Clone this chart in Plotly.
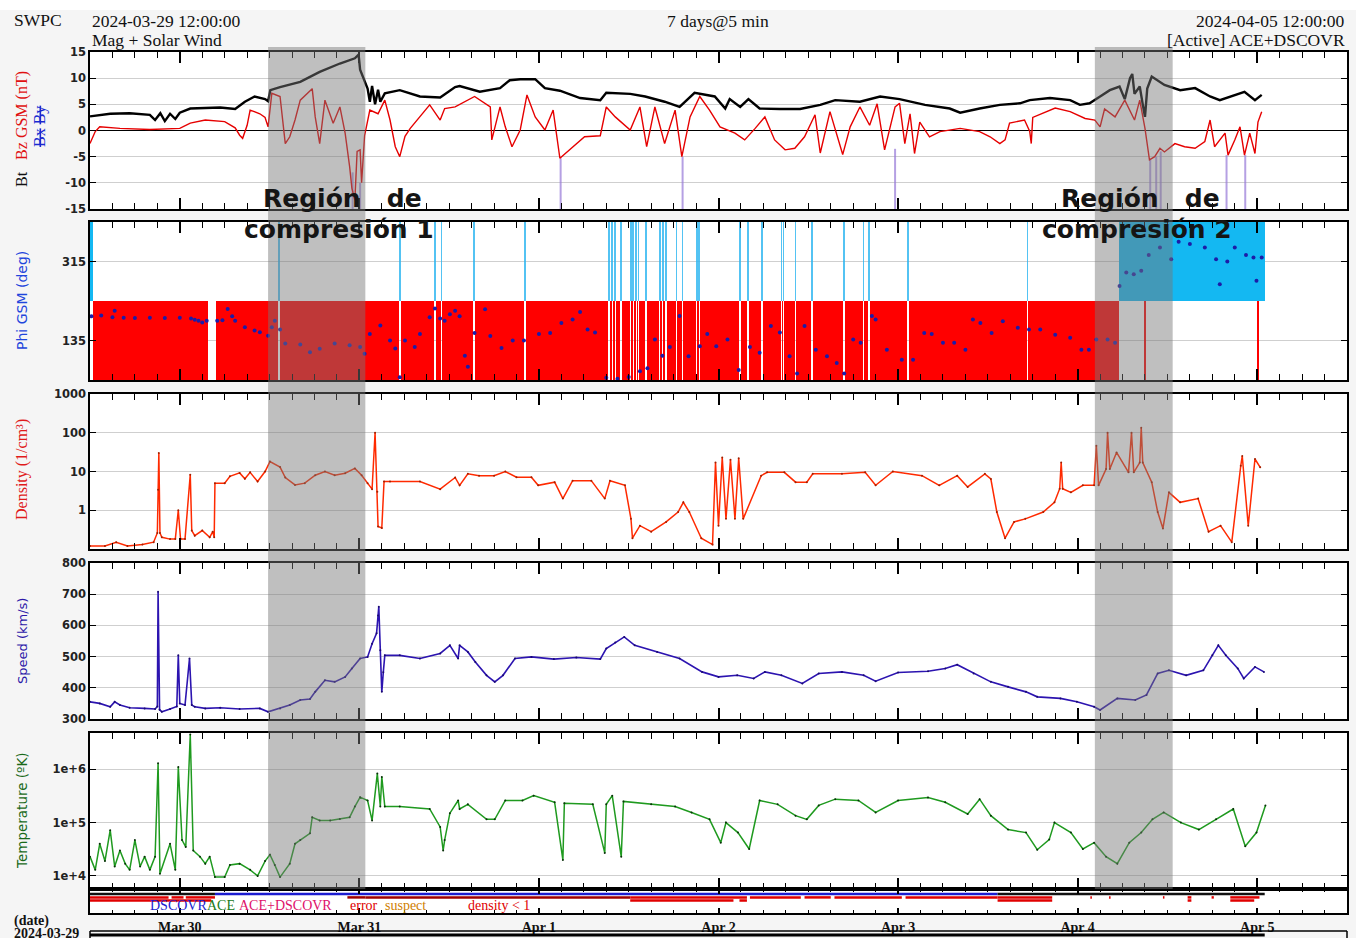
import pandas as pd
import plotly.graph_objects as go

T0 = pd.Timestamp("2024-03-29 12:00:00")
T_END = pd.Timestamp("2024-04-05 12:00:00")

# ---------------- data (time in hours since 2024-03-29 12:00 UTC) ----------------
bt_hours = [0, 1.3, 2.7, 5.3, 8.0, 8.7, 9.4, 10.0, 10.7, 11.4, 12.0, 13.4, 17.4, 19.4, 20.7, 22.0, 23.4, 23.8,
            24.1, 25.4, 28.1, 30.7, 33.4, 35.4, 35.9, 36.1, 36.7, 37.1, 37.4, 37.7, 38.1, 38.5, 38.8, 39.4, 41.4,
            44.1, 46.8, 48.8, 49.4, 52.1, 54.8, 56.1, 57.5, 59.5, 60.8, 62.8, 65.5, 68.2, 69.0, 72.2, 74.2, 76.8,
            78.8, 80.8, 83.5, 84.9, 85.5, 86.9, 88.0, 89.5, 92.2, 94.9, 97.6, 99.6, 102.9, 105.6, 108.2, 111.6,
            114.9, 116.3, 118.9, 121.6, 124.3, 125.6, 128.3, 131.0, 132.3, 133.6, 135.0, 136.3, 137.6, 138.3,
            139.0, 139.3, 139.6, 140.3, 140.7, 141.0, 141.3, 141.9, 143.6, 145.7, 147.7, 149.7, 151.0, 153.0,
            154.3, 155.7, 156.6]
bt_nt = [2.7, 3.0, 3.2, 3.3, 3.0, 2.0, 3.3, 1.8, 3.2, 2.2, 3.4, 4.2, 4.4, 4.1, 5.5, 6.5, 6.0, 5.6,
         7.7, 8.3, 9.3, 11.2, 12.8, 13.8, 14.5, 11.6, 9.6, 8.0, 5.5, 8.5, 5.0, 7.8, 5.5, 7.1, 7.7,
         6.5, 6.3, 8.3, 8.5, 7.4, 8.1, 9.6, 9.8, 9.8, 8.1, 7.6, 6.2, 5.8, 7.2, 7.0, 6.5, 5.5,
         4.5, 7.2, 6.5, 4.2, 6.0, 4.5, 6.0, 4.2, 4.1, 4.1, 4.9, 5.8, 5.5, 6.5, 6.0, 4.9,
         4.2, 3.4, 4.2, 4.9, 5.2, 5.8, 6.2, 5.8, 4.9, 5.2, 6.5, 7.7, 8.4, 6.0,
         10.0, 10.8, 7.0, 8.4, 5.0, 2.6, 8.0, 10.3, 8.7, 7.7, 8.1, 6.5, 5.8, 6.8,
         7.4, 5.8, 6.8]

bz_hours = [0, 0.7, 1.3, 4.0, 8.0, 12.0, 13.4, 15.4, 18.0, 19.4, 20.0, 20.4, 21.0, 21.4, 22.7, 23.4, 23.8, 24.3,
            25.4, 26.1, 26.7, 27.4, 28.1, 29.4, 29.7, 30.1, 30.7, 31.4, 32.5, 33.4, 34.1, 34.7, 35.0, 35.4, 35.7,
            36.1, 36.3, 36.7, 37.4, 38.5, 39.4, 40.1, 40.8, 41.4, 42.1, 42.8, 44.1, 45.4, 46.8, 47.4, 48.8, 50.1,
            51.4, 53.5, 53.7, 54.8, 55.5, 56.4, 57.5, 58.4, 59.5, 60.8, 61.9, 62.8, 64.1, 66.1, 68.2, 69.0, 70.2,
            72.2, 73.5, 74.4, 75.5, 76.8, 78.2, 79.1, 80.2, 81.5, 82.8, 84.2, 86.2, 87.5, 88.9, 90.2, 91.5, 92.9,
            94.2, 95.5, 96.9, 97.6, 98.9, 100.6, 101.6, 102.9, 104.2, 105.2, 106.2, 107.6, 108.2, 108.9, 109.6,
            110.2, 110.9, 112.2, 113.6, 116.3, 118.9, 120.3, 121.6, 122.3, 122.9, 124.9, 125.6, 125.8, 126.0,
            126.9, 129.0, 131.0, 133.0, 134.3, 135.0, 135.6, 137.0, 138.3, 139.6, 140.3, 141.0, 141.6, 142.3,
            143.0, 143.6, 145.0, 146.3, 147.7, 149.0, 149.7, 150.3, 151.7, 152.1, 153.0, 153.7, 154.3, 155.0,
            155.7, 156.1, 156.6]
bz_nt = [-2.5, -0.2, 0.7, 0.4, 0.2, 0.4, 1.4, 2.0, 1.7, 0.5, -0.9, -1.5, 1.0, 3.9, 3.2, 2.5, 0.7, 7.1,
         6.5, -2.5, -1.2, 2.0, 5.8, 7.7, 8.0, 2.6, -2.5, 5.8, 1.4, 4.5, -0.5, -6.9, -11.0, -13.3, -4.0,
         -3.7, -10.0, -1.0, 3.9, 3.2, 5.8, 2.0, -3.1, -5.0, -1.1, 0.4, 2.6, 4.9, 2.0, 4.2, 4.5, 5.5,
         6.5, 4.5, -1.8, 4.5, 0.7, -3.1, 0.1, 6.8, 2.6, 0.1, 3.9, -5.3, -3.7, -1.2, -1.0, 4.5, 2.6,
         0.1, 4.5, -3.1, 4.5, -2.5, 3.9, -5.0, 2.6, 6.5, 3.9, 0.7, -0.5, -1.8, 0.4, 2.6, -1.8, -3.7,
         -3.4, -1.2, 3.0, -4.3, 3.6, -4.6, 0.7, 4.5, 1.0, 5.1, -3.7, 4.5, 5.2, -2.5, 3.2,
         -4.4, 1.6, -1.2, -0.2, 0.4, -0.2, -1.2, -2.5, -1.8, 1.4, 2.0, -0.2, -2.5, 2.5,
         3.0, 4.3, 3.6, 2.3, 2.0, 0.7, 4.1, 2.6, 5.8, 2.0, 5.8, 0.4, -5.6, -5.0,
         -3.4, -4.1, -2.5, -3.1, -3.4, -2.1, 2.0, -3.1, -0.5, -4.7, -1.8, 0.7, -4.7, -0.5,
         -4.4, 1.6, 3.6]

# Bz flagged excursions (drawn down to the axis floor)
bzflag_hours = [35.1, 36.1, 62.9, 79.2, 107.6, 141.7, 142.5, 143.1, 151.9, 154.4]
bzflag_top = [-8.0, -10.0, -5.3, -5.0, -3.5, -5.6, -5.0, -4.0, -4.7, -4.7]

phi_hours = [0.2, 1.5, 3.0, 3.3, 4.5, 6, 8, 10, 12, 13.5, 14.0, 14.5, 15.0, 15.6, 17.0, 17.7, 18.4, 19.0, 19.4,
             20.7, 22.0, 22.7, 23.8, 24.3, 24.7, 25.4, 26.1, 28.1, 29.4, 30.7, 32.7, 34.7, 36.1, 36.7, 37.4, 38.8,
             40.1, 40.8, 41.4, 42.1, 43.4, 44.1, 45.4, 46.1, 46.8, 47.4, 48.1, 48.8, 49.4, 50.1, 50.5, 51.4, 52.8,
             53.5, 55.0, 56.5, 58.0, 60.0, 61.5, 63.0, 64.5, 65.5, 66.5, 67.5, 69.0, 70.5, 72.0, 73.5, 74.5, 75.5,
             76.5, 77.5, 78.8, 80.0, 81.5, 82.5, 83.7, 85.2, 86.7, 88.2, 89.5, 91.0, 92.2, 93.5, 94.5, 95.5, 97.0,
             98.5, 99.8, 100.8, 102.0, 103.0, 104.5, 105.0, 106.5, 108.5, 110.0, 111.5, 112.5, 114.0, 115.5, 117.0,
             118.0, 119.0, 120.5, 122.0, 124.0, 125.5, 127.0, 129.0, 131.0, 132.5, 133.5, 134.5, 136.0, 137.0,
             137.6, 138.5, 139.5, 140.5, 141.5, 143.0, 144.5, 145.5, 147.0, 149.0, 150.5, 151.0, 152.0, 153.0,
             154.5, 155.5, 155.9, 156.6]
phi_deg = [190, 192, 188, 203, 187, 186, 187, 186, 187, 185, 182, 180, 176, 180, 180, 181, 207, 190, 180,
           165, 158, 154, 146, 165, 180, 160, 128, 126, 108, 116, 128, 124, 120, 105, 150, 169,
           135, 117, 51, 135, 120, 150, 188, 208, 185, 180, 195, 203, 190, 100, 75, 152, 206,
           145, 118, 135, 135, 150, 152, 175, 183, 200, 160, 153, 50, 48, 52, 65, 72, 137,
           100, 120, 191, 99, 122, 150, 122, 137, 68, 120, 107, 168, 153, 99, 60, 168, 114,
           99, 84, 60, 137, 130, 191, 183, 114, 91, 91, 152, 150, 130, 130, 114,
           183, 175, 152, 179, 164, 160, 160, 148, 141, 114, 114, 137, 137, 130,
           259, 290, 286, 294, 330, 347, 320, 360, 355, 347, 320, 263, 315, 347,
           330, 324, 271, 324]

# IMF sector intervals (hours): "away" (red, 45-225 deg) and "toward" (blue, 225-405 deg)
away_spans = [(0.4, 15.8), (16.8, 137.5)]
toward_spans = [(0.0, 0.4), (137.5, 157.0)]
toward_spikes = [25.3, 41.4, 46.1, 47.0, 51.3, 58.1, 69.4, 69.8, 70.2, 71.0, 72.3, 72.6, 73.0, 73.3, 74.3,
                 76.2, 76.6, 77.0, 78.4, 79.2, 81.1, 81.4, 86.9, 87.9, 89.8, 92.4, 92.7, 94.3, 96.5, 100.8,
                 103.4, 104.1, 109.3, 125.3]
away_spikes = [141.0, 156.1]

dens_hours = [0, 2, 3.5, 5, 7, 8.5, 9.0, 9.1, 9.2, 9.35, 9.6, 10.7, 11.4, 11.8, 12.1, 12.7, 13.4, 13.6, 14.0,
              15.0, 16.0, 16.4, 16.6, 16.7, 18.0, 18.7, 20.0, 20.7, 21.4, 22.4, 23.4, 24.05, 25.4, 26.1, 27.4,
              28.7, 30.1, 31.4, 32.7, 34.1, 35.4, 36.3, 37.1, 37.7, 38.1, 38.4, 38.5, 39.0, 39.3, 40.1, 44.1,
              46.8, 48.8, 49.4, 50.5, 52, 54.0, 55.5, 57.0, 59.0, 59.9, 62.1, 63.2, 64.5, 67.0, 68.8, 69.5,
              71.5, 72.3, 72.5, 73.5, 75, 77, 78.6, 79.3, 80.1, 81.7, 83.2, 83.6, 84.0, 84.5, 85.0, 85.6, 86.2,
              86.7, 87.3, 89.7, 90.5, 92.8, 94.3, 95.8, 96.6, 100.5, 103.6, 105.0, 107.3, 111.2, 113.5, 115.9,
              117.3, 119.6, 120.4, 121.2, 122.3, 123.5, 125.0, 127.4, 128.9, 129.6, 129.8, 130.0, 131.1, 132.7,
              134.2, 134.5, 134.8, 135.8, 136.0, 136.3, 137.2, 138.8, 139.2, 139.5, 140.3, 140.5, 140.7, 141.9,
              142.7, 143.4, 144.2, 145.7, 148.1, 149.5, 151.1, 152.6, 153.8, 154.0, 154.8, 155.7, 156.4]
dens_cm3 = [0.12, 0.12, 0.15, 0.12, 0.13, 0.15, 0.26, 3.4, 30, 0.26, 0.2, 0.18, 0.18, 1.0, 0.18, 0.18, 8.3, 0.3, 0.22,
            0.3, 0.2, 0.28, 0.2, 5.0, 5.0, 7.5, 9.2, 6.5, 9.5, 5.5, 10, 18, 13, 7, 4.5,
            5, 8, 10, 8, 9, 12, 8, 5, 3.5, 100, 3.0, 0.38, 0.35, 5.5, 5.5, 5.5,
            3.5, 7, 4.4, 8.7, 7.8, 7.8, 10, 7.1, 7.1, 4.4, 5.3, 2.0, 5.8, 5.8, 2.0, 5.8,
            4.4, 0.6, 0.19, 0.4, 0.28, 0.5, 0.9, 1.6, 0.9, 0.19, 0.13, 17, 0.4, 23, 0.6, 20, 0.6,
            22, 0.6, 7.8, 9.5, 9.5, 5.3, 5.3, 8.7, 8.7, 9.5, 4.4, 10, 7.8, 4.4, 7.8,
            4.0, 8.7, 6.4, 0.9, 0.19, 0.5, 0.6, 0.9, 1.6, 3.6, 17, 3.6, 2.9, 4.4,
            4.4, 46, 4.4, 11.6, 100, 11.6, 31, 9.5, 100, 9.5, 17, 134, 17, 5.3,
            0.9, 0.34, 2.9, 1.6, 2.0, 0.28, 0.4, 0.15, 14, 25, 0.4, 21, 12.8]

speed_hours = [0, 1.3, 2.7, 3.3, 4.0, 5.3, 7.3, 8.7, 9.0, 9.1, 9.3, 9.6, 10.7, 11.6, 11.8, 12.0, 12.7, 13.3, 13.6,
               14.0, 15.4, 17.4, 20.0, 22.7, 23.8, 25.4, 26.7, 28.1, 29.4, 30.1, 31.4, 32.7, 34.1, 35.0, 36.1,
               37.1, 37.7, 38.3, 38.5, 38.6, 38.8, 39.0, 39.2, 39.4, 41.4, 44.1, 46.8, 48.1, 49.2, 49.4, 50.5,
               51.5, 53.0, 54.1, 55.2, 56.8, 59.0, 62.0, 65.0, 68.2, 69.0, 70.2, 71.4, 72.8, 75.8, 78.8, 81.8,
               84.0, 86.5, 88.7, 90.2, 92.4, 95.2, 97.4, 100.5, 103.4, 105.0, 108.0, 112.0, 114.3, 115.9, 118.1,
               120.4, 122.7, 125.1, 126.6, 129.7, 131.9, 134.2, 135.0, 137.3, 139.7, 141.2, 142.7, 144.2, 146.5,
               148.8, 150.0, 150.8, 151.8, 153.4, 154.2, 155.7, 156.9]
speed_kms = [355, 350, 339, 355, 345, 336, 334, 332, 340, 708, 330, 323, 332, 340, 504, 350, 345, 494, 345,
             339, 334, 336, 332, 334, 323, 334, 345, 361, 364, 387, 424, 419, 435, 462, 494,
             499, 541, 575, 632, 660, 520, 387, 450, 504, 504, 494, 510, 536, 494, 536, 515,
             483, 440, 419, 440, 494, 499, 492, 497, 492, 526, 545, 563, 536, 515, 494, 451,
             435, 440, 430, 451, 440, 414, 446, 451, 440, 421, 449, 453, 462, 474, 446,
             419, 403, 387, 371, 366, 355, 339, 329, 366, 361, 377, 446, 456, 440,
             456, 504, 536, 504, 462, 430, 467, 451]

temp_hours = [0, 0.7, 1.3, 2.0, 2.7, 3.3, 4.0, 4.7, 5.3, 6.0, 6.7, 7.3, 8.0, 8.7, 9.1, 9.35, 10.7, 11.4, 11.8,
              12.3, 12.8, 13.4, 13.8, 14.7, 15.4, 16.0, 16.7, 18.0, 18.7, 20.0, 21.4, 22.4, 23.4, 24.05, 24.7,
              25.4, 26.7, 27.4, 28.1, 29.4, 29.7, 30.7, 32.1, 33.4, 34.7, 35.4, 36.1, 37.1, 37.7, 38.4, 38.8,
              39.0, 39.4, 41.4, 45.4, 46.8, 47.2, 47.4, 48.1, 49.2, 49.4, 50.5, 53.0, 54.1, 55.5, 57.8, 59.3,
              62.1, 63.2, 63.4, 67.2, 68.8, 69.0, 69.8, 71.0, 71.3, 75.0, 78.2, 80.4, 82.8, 84.3, 85.0, 86.6,
              88.1, 89.5, 91.9, 94.3, 95.8, 97.4, 99.6, 102.7, 105.0, 108.0, 112.0, 114.3, 117.3, 118.9, 120.4,
              122.7, 125.1, 126.6, 128.2, 128.9, 131.1, 132.7, 134.2, 135.8, 137.3, 138.9, 140.5, 142.0, 143.5,
              145.8, 148.2, 150.5, 152.8, 154.4, 155.9, 157.1]
temp_k = [2.3e4, 1.3e4, 4.0e4, 1.9e4, 7.2e4, 1.5e4, 3.0e4, 1.7e4, 1.3e4, 4.7e4, 1.5e4, 2.3e4, 1.3e4, 2.3e4, 1.3e6,
          1.1e4, 4.0e4, 1.3e4, 1.1e6, 4.7e4, 3.5e4, 4.5e6, 3.0e4, 2.3e4, 1.7e4, 2.3e4, 9.5e3, 9.5e3, 1.6e4,
          1.7e4, 1.3e4, 1.0e4, 1.9e4, 2.5e4, 1.6e4, 9.5e3, 1.7e4, 4.0e4, 4.7e4, 6.3e4, 1.26e5, 1.1e5, 1.1e5,
          1.17e5, 1.26e5, 2.0e5, 3.0e5, 2.6e5, 1.1e5, 8.3e5, 2.0e5, 7.2e5, 2.0e5, 2.0e5, 1.8e5, 8.3e4, 3.0e4,
          4.7e4, 1.5e5, 2.6e5, 1.8e5, 2.2e5, 1.15e5, 1.15e5, 2.6e5, 2.6e5, 3.2e5, 2.4e5, 2.0e4, 2.3e5, 2.2e5,
          2.7e4, 2.2e5, 3.2e5, 2.3e4, 2.5e5, 2.2e5, 2.0e5, 1.55e5, 1.15e5, 4.2e4, 1.0e5, 6.5e4, 3.2e4, 2.6e5,
          2.2e5, 1.35e5, 1.15e5, 2.1e5, 2.75e5, 2.6e5, 1.55e5, 2.6e5, 2.95e5, 2.4e5, 1.45e5, 2.75e5, 1.35e5,
          7.4e4, 6.5e4, 3.1e4, 4.8e4, 1.0e5, 6.5e4, 3.2e4, 4.2e4, 2.3e4, 1.7e4, 4.2e4, 6.5e4, 1.15e5, 1.55e5,
          1.0e5, 7.4e4, 1.15e5, 1.8e5, 3.6e4, 6.5e4, 2.1e5]

# data-source / quality status bar (hours)
source_spans = [(0.0, 16.7, "#111111"), (16.7, 121.3, "#1c1cd0"), (121.3, 157.0, "#111111")]
flag_spans_row1 = [(0.0, 10.5), (10.9, 12.5), (12.8, 16.7), (34.4, 36.8), (36.8, 72.2), (72.2, 87.8), (88.2, 95.0),
                   (95.5, 99.0), (99.5, 108.5), (109.0, 121.3), (121.3, 128.6), (133.7, 133.9), (136.2, 136.4),
                   (143.4, 143.6), (146.7, 147.2), (149.9, 150.2), (152.4, 156.3)]
flag_spans_row2 = [(0.0, 16.2), (72.2, 86.0), (86.8, 87.8), (121.3, 128.6), (146.7, 147.2), (152.4, 155.6)]
flag_colors_row1 = ["#e00000", "#e00000", "#e00000", "#a00000", "#a00000", "#e00000", "#e00000",
                    "#e00000", "#e00000", "#e00000", "#e00000", "#e00000", "#e00000",
                    "#e00000", "#e00000", "#e00000", "#e00000"]

compression_spans = [(23.8, 36.8), (134.3, 144.7)]
day_ticks = ["2024-03-30", "2024-03-31", "2024-04-01", "2024-04-02", "2024-04-03", "2024-04-04", "2024-04-05"]
day_labels = ["Mar 30", "Mar 31", "Apr 1", "Apr 2", "Apr 3", "Apr 4", "Apr 5"]


# ---------------- helpers ----------------
def tt(hours):
    return [T0 + pd.Timedelta(hours=h) for h in hours]


H_PX = 938.0


def py(px):
    return 1 - px / H_PX


def pxx(px):
    return (px - 90) / 1257.0


SERIF = "Liberation Serif"
SANS = "DejaVu Sans"

fig = go.Figure()

# ---- panel 1: magnetic field ----
fx, fy = [], []
for h, top in zip(bzflag_hours, bzflag_top):
    t = T0 + pd.Timedelta(hours=h)
    fx += [t, t, None]
    fy += [top, -15, None]
fig.add_trace(go.Scatter(x=fx, y=fy, mode="lines", line=dict(color="rgba(150,120,215,0.7)", width=2),
                         xaxis="x", yaxis="y", hoverinfo="skip"))
fig.add_trace(go.Scatter(x=tt(bz_hours), y=bz_nt, mode="lines", line=dict(color="#e60000", width=1.4),
                         xaxis="x", yaxis="y"))
fig.add_trace(go.Scatter(x=tt(bt_hours), y=bt_nt, mode="lines", line=dict(color="#000000", width=2.4),
                         xaxis="x", yaxis="y"))

# ---- panel 2: phi with sector bars ----
spike_w = 0.22
red_spans = []
for a, b in away_spans:
    cuts = sorted(t for t in toward_spikes if a < t < b)
    cur = a
    for t in cuts:
        if t - spike_w / 2 > cur:
            red_spans.append((cur, t - spike_w / 2))
        cur = t + spike_w / 2
    red_spans.append((cur, b))
red_spans += [(t - spike_w / 2, t + spike_w / 2) for t in away_spikes]
blue_solid = list(toward_spans)
blue_spikes = [(t - spike_w / 2, t + spike_w / 2) for t in toward_spikes]


def span_bar(spans, base, height, color):
    return go.Bar(x=[T0 + pd.Timedelta(hours=(a + b) / 2) for a, b in spans],
                  y=[height] * len(spans), base=[base] * len(spans),
                  width=[(b - a) * 3600000 for a, b in spans],
                  marker=dict(color=color, line=dict(width=0)), xaxis="x2", yaxis="y2", hoverinfo="skip")


fig.add_trace(span_bar(red_spans, 45, 180, "#ff0000"))
fig.add_trace(span_bar(blue_solid, 225, 180, "#14b8f2"))
fig.add_trace(span_bar(blue_spikes, 225, 180, "rgba(40,180,240,0.8)"))
fig.add_trace(go.Scatter(x=tt(phi_hours), y=phi_deg, mode="markers",
                         marker=dict(color="#1c1ca8", size=4), xaxis="x2", yaxis="y2"))

# ---- panel 3: density ----
fig.add_trace(go.Scatter(x=tt(dens_hours), y=dens_cm3, mode="lines+markers",
                         line=dict(color="#ff2a00", width=1.5), marker=dict(color="#a02000", size=2),
                         xaxis="x3", yaxis="y3"))

# ---- panel 4: speed ----
fig.add_trace(go.Scatter(x=tt(speed_hours), y=speed_kms, mode="lines+markers",
                         line=dict(color="#2c14b0", width=1.6), marker=dict(color="#1a0a70", size=2),
                         xaxis="x4", yaxis="y4"))

# ---- panel 5: temperature ----
fig.add_trace(go.Scatter(x=tt(temp_hours), y=temp_k, mode="lines+markers",
                         line=dict(color="#1f9a1f", width=1.5), marker=dict(color="#0a300a", size=2),
                         xaxis="x5", yaxis="y5"))

# ---- panel 6: status bar ----
for a, b, c in source_spans:
    fig.add_trace(go.Scatter(x=tt([a, b]), y=[0.79, 0.79], mode="lines", line=dict(color=c, width=2.5),
                             xaxis="x6", yaxis="y6", hoverinfo="skip"))
for (a, b), c in zip(flag_spans_row1, flag_colors_row1):
    fig.add_trace(go.Scatter(x=tt([a, b]), y=[0.65, 0.65], mode="lines", line=dict(color=c, width=2.5),
                             xaxis="x6", yaxis="y6", hoverinfo="skip"))
for a, b in flag_spans_row2:
    fig.add_trace(go.Scatter(x=tt([a, b]), y=[0.52, 0.52], mode="lines", line=dict(color="#e00000", width=2.5),
                             xaxis="x6", yaxis="y6", hoverinfo="skip"))

# ---------------- layout ----------------
domains = {
    1: (py(209), py(52)),
    2: (py(380), py(222)),
    3: (py(549), py(394)),
    4: (py(719), py(563)),
    5: (py(889), py(733)),
    6: (py(913), py(889)),
}

tickfont = dict(family=SANS, size=11.5, color="#222", weight="bold")


def xaxis(i):
    d = dict(domain=[0, 1], range=[T0, T_END], type="date", anchor="y" if i == 1 else "y%d" % i,
             showgrid=False, zeroline=False, showline=True, linecolor="#000", linewidth=1.5,
             mirror="allticks", ticks="inside", ticklen=11, tickwidth=1.5, tickcolor="#000",
             tickmode="array", tickvals=day_ticks, ticktext=day_labels,
             minor=dict(ticks="inside", ticklen=6, tickwidth=1, tickcolor="#000",
                        tickmode="linear", tick0="2024-03-29 12:00", dtick=3 * 3600000),
             showticklabels=(i == 6), automargin=False,
             tickfont=dict(family=SERIF, size=14, color="#111", weight="bold"))
    if i == 6:
        d["ticklen"] = 5
        d["minor"]["ticklen"] = 3
    if i != 1:
        d["matches"] = "x"
    return d


def yaxis(i, **kw):
    d = dict(domain=list(domains[i]), anchor="x" if i == 1 else "x%d" % i,
             showline=True, linecolor="#000", linewidth=1.5, mirror="allticks",
             ticks="inside", ticklen=6, tickcolor="#000", showgrid=True, gridcolor="#cfcfcf",
             gridwidth=1, zeroline=False, tickfont=tickfont, automargin=False)
    d.update(kw)
    return d


layout = dict(
    width=1356, height=938, template="none",
    paper_bgcolor="#f5f5f5", plot_bgcolor="#ffffff",
    margin=dict(l=90, r=9, t=0, b=0), showlegend=False,
    barmode="overlay", bargap=0,
)
for i in range(1, 7):
    layout["xaxis" if i == 1 else "xaxis%d" % i] = xaxis(i)

layout["yaxis"] = yaxis(1, range=[-15, 15], tickmode="array", tickvals=[-15, -10, -5, 0, 5, 10, 15],
                        ticktext=["-15", "-10", "-5", "0", "5", "10", "15"],
                        zeroline=True, zerolinecolor="#000", zerolinewidth=1.3)
layout["yaxis2"] = yaxis(2, range=[45, 405], tickmode="array", tickvals=[135, 315], ticktext=["135", "315"])
layout["yaxis3"] = yaxis(3, type="log", range=[-1, 3], tickmode="array", tickvals=[1, 10, 100, 1000],
                         ticktext=["1", "10", "100", "1000"])
layout["yaxis4"] = yaxis(4, range=[300, 800], tickmode="array", tickvals=[300, 400, 500, 600, 700, 800],
                         ticktext=["300", "400", "500", "600", "700", "800"])
layout["yaxis5"] = yaxis(5, type="log", range=[3.755, 6.68], tickmode="array", tickvals=[1e4, 1e5, 1e6],
                         ticktext=["1e+4", "1e+5", "1e+6"])
layout["yaxis6"] = yaxis(6, range=[0, 1], showgrid=False, showticklabels=False, ticks="")

shapes = [dict(type="rect", xref="paper", yref="paper", x0=-0.08, x1=1.01, y0=py(10), y1=1.0,
               fillcolor="#ffffff", line=dict(width=0), layer="below")]
for a, b in compression_spans:
    shapes.append(dict(type="rect", xref="x", yref="paper",
                       x0=T0 + pd.Timedelta(hours=a), x1=T0 + pd.Timedelta(hours=b),
                       y0=py(889), y1=py(47), fillcolor="rgba(118,118,118,0.47)",
                       line=dict(width=0), layer="above"))
# bottom (cut-off) overview strip
shapes.append(dict(type="line", xref="paper", yref="paper", x0=0, x1=1, y0=py(931), y1=py(931),
                   line=dict(color="#000", width=1.5)))
shapes.append(dict(type="line", xref="x", yref="paper", x0=T0, x1=T0 + pd.Timedelta(hours=157),
                   y0=py(935), y1=py(935), line=dict(color="#000", width=3)))
shapes.append(dict(type="line", xref="paper", yref="paper", x0=0, x1=0, y0=py(931), y1=0,
                   line=dict(color="#000", width=1.5)))
shapes.append(dict(type="line", xref="paper", yref="paper", x0=1, x1=1, y0=py(931), y1=0,
                   line=dict(color="#000", width=1.5)))
layout["shapes"] = shapes

ann = []


def A(text, xpx, ypx, size, family=SERIF, color="#111", xanchor="left", angle=0, weight="normal"):
    ann.append(dict(text=text, xref="paper", yref="paper", x=pxx(xpx), y=py(ypx), xanchor=xanchor,
                    yanchor="middle", showarrow=False, textangle=angle,
                    font=dict(family=family, size=size, color=color, weight=weight)))


A("SWPC", 12, 20, 17.5)
A("2024-03-29 12:00:00", 90, 21, 17.5)
A("Mag + Solar Wind", 90, 40, 17.5)
A("7 days@5 min", 718, 21, 17.5, xanchor="center")
A("2024-04-05 12:00:00", 1347, 21, 17.5, xanchor="right")
A("[Active] ACE+DSCOVR", 1347, 40, 17.5, xanchor="right")

# axis titles
A("Bt&nbsp;&nbsp;&nbsp;<span style='color:#e01010'>Bz GSM (nT)</span>", 22, 129, 16, xanchor="center", angle=-90)
A("<span style='color:#1a2ad0'><s>Bx</s>&nbsp;<s>By</s></span>", 40, 127, 16, xanchor="center", angle=-90)
A("Phi GSM (deg)", 22, 301, 14, family=SANS, color="#1f46dc", xanchor="center", angle=-90)
A("Density (1/cm³)", 22, 470, 16, color="#e01a1a", xanchor="center", angle=-90)
A("Speed (km/s)", 22, 641, 13, family=SANS, color="#2c18a8", xanchor="center", angle=-90)
A("Temperature (ºK)", 22, 811, 13.5, family=SANS, color="#1a6a1a", xanchor="center", angle=-90)

# compression region labels
A("Región&nbsp;&nbsp;&nbsp;de", 342, 199, 25, family=SANS, color="#151515", xanchor="center", weight="bold")
A("compresión 1", 339, 230, 25, family=SANS, color="#151515", xanchor="center", weight="bold")
A("Región&nbsp;&nbsp;&nbsp;de", 1140, 198, 25, family=SANS, color="#151515", xanchor="center", weight="bold")
A("compresión 2", 1137, 229, 25, family=SANS, color="#151515", xanchor="center", weight="bold")

# status legend
A("DSCOVR", 148, 905, 14, color="#1c1cd0")
A("ACE", 205, 905, 14, color="#1a7a1a")
A("ACE+DSCOVR", 237, 905, 14, color="#e0106a")
A("error", 348, 905, 14, color="#e00000")
A("suspect", 383, 905, 14, color="#d08000")
A("density &lt; 1", 466, 905, 14, color="#e00000")

A("(date)", 12, 921, 14, weight="bold")
A("2024-03-29", 12, 933, 14, weight="bold")

layout["annotations"] = ann
fig.update_layout(**layout)
fig.write_html("out.html", config={"displayModeBar": False},
               post_script="document.body.style.margin='0';document.body.style.padding='0';"
                           "document.documentElement.style.overflow='hidden';")
